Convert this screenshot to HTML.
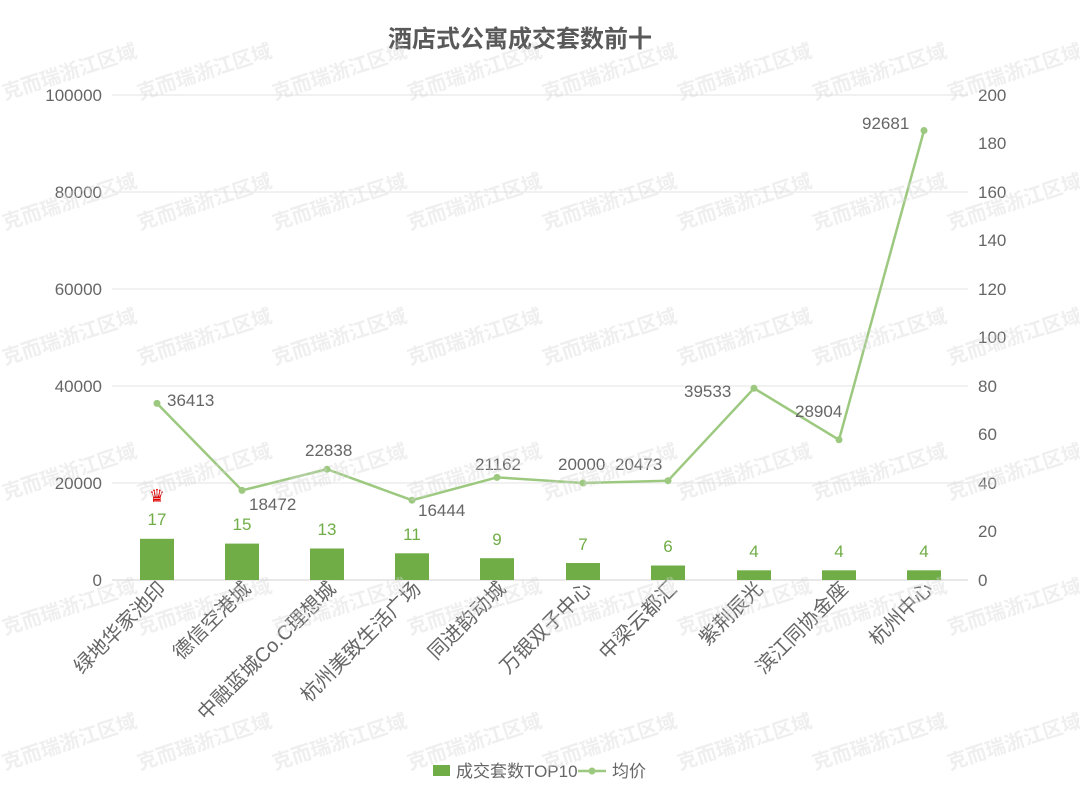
<!DOCTYPE html>
<html><head><meta charset="utf-8"><style>
html,body{margin:0;padding:0;background:#fff}
svg{display:block}
text{font-family:"Liberation Sans","Noto Sans CJK SC",sans-serif}
</style></head><body>
<svg width="1080" height="796" viewBox="0 0 1080 796" xmlns="http://www.w3.org/2000/svg">
<rect width="1080" height="796" fill="#fff"/>
<g stroke="#e3e3e3" stroke-width="1">
<line x1="112" y1="95" x2="968" y2="95"/>
<line x1="112" y1="192" x2="968" y2="192"/>
<line x1="112" y1="289" x2="968" y2="289"/>
<line x1="112" y1="386" x2="968" y2="386"/>
<line x1="112" y1="483" x2="968" y2="483"/>
<line x1="112" y1="580" x2="968" y2="580" stroke="#d0d0d0"/>
</g>
<text x="520" y="47" text-anchor="middle" font-size="24" font-weight="bold" fill="#595959">酒店式公寓成交套数前十</text>
<g font-size="17" fill="#666" text-anchor="end">
<text x="102" y="101">100000</text><text x="102" y="198">80000</text><text x="102" y="295">60000</text>
<text x="102" y="392">40000</text><text x="102" y="489">20000</text><text x="102" y="586">0</text>
</g>
<g font-size="17" fill="#666" text-anchor="start">
<text x="978" y="101">200</text><text x="978" y="198">160</text><text x="978" y="295">120</text>
<text x="978" y="392">80</text><text x="978" y="489">40</text><text x="978" y="586">0</text>
<text x="978" y="149">180</text><text x="978" y="246">140</text><text x="978" y="343">100</text>
<text x="978" y="440">60</text><text x="978" y="537">20</text>
</g>
<g fill="#70ad47">
<rect x="140" y="538.8" width="34" height="41.2"/>
<rect x="225" y="543.6" width="34" height="36.4"/>
<rect x="310" y="548.5" width="34" height="31.5"/>
<rect x="395" y="553.3" width="34" height="26.7"/>
<rect x="480" y="558.2" width="34" height="21.8"/>
<rect x="566" y="563" width="34" height="17"/>
<rect x="651" y="565.5" width="34" height="14.5"/>
<rect x="737" y="570.3" width="34" height="9.7"/>
<rect x="822" y="570.3" width="34" height="9.7"/>
<rect x="907" y="570.3" width="34" height="9.7"/>
</g>
<g font-size="17" fill="#70ad47" text-anchor="middle">
<text x="157" y="525">17</text><text x="242" y="530">15</text><text x="327" y="535">13</text>
<text x="412" y="540">11</text><text x="497" y="545">9</text><text x="583" y="550">7</text>
<text x="668" y="552">6</text><text x="754" y="557">4</text><text x="839" y="557">4</text><text x="924" y="557">4</text>
</g>
<text x="157" y="502" text-anchor="middle" font-size="18" fill="#d00">♛</text>
<polyline fill="none" stroke="#9cc97f" stroke-width="2.5" points="157,403.4 242,490.4 327,469.2 412,500.2 497,477.4 583,483 668,480.7 754,388.3 839,439.8 924,130.5"/>
<g fill="#9cc97f">
<circle cx="157" cy="403.4" r="3.5"/><circle cx="242" cy="490.4" r="3.5"/><circle cx="327" cy="469.2" r="3.5"/>
<circle cx="412" cy="500.2" r="3.5"/><circle cx="497" cy="477.4" r="3.5"/><circle cx="583" cy="483" r="3.5"/>
<circle cx="668" cy="480.7" r="3.5"/><circle cx="754" cy="388.3" r="3.5"/><circle cx="839" cy="439.8" r="3.5"/><circle cx="924" cy="130.5" r="3.5"/>
</g>
<g font-size="17" fill="#666">
<text x="167" y="406">36413</text><text x="249" y="510">18472</text><text x="305" y="456">22838</text>
<text x="418" y="516">16444</text><text x="475" y="470">21162</text><text x="558" y="470">20000</text>
<text x="615" y="470">20473</text><text x="684" y="397">39533</text><text x="795" y="417">28904</text><text x="862" y="129">92681</text>
</g>
<g font-size="20" fill="#666" text-anchor="end">
<text transform="translate(167,590) rotate(-45)">绿地华家池印</text>
<text transform="translate(252,590) rotate(-45)">德信空港城</text>
<text transform="translate(337,590) rotate(-45)">中融蓝城Co.C理想城</text>
<text transform="translate(422,590) rotate(-45)">杭州美致生活广场</text>
<text transform="translate(507,590) rotate(-45)">同进韵动城</text>
<text transform="translate(593,590) rotate(-45)">万银双子中心</text>
<text transform="translate(678,590) rotate(-45)">中梁云都汇</text>
<text transform="translate(764,590) rotate(-45)">紫荆辰光</text>
<text transform="translate(849,590) rotate(-45)">滨江同协金座</text>
<text transform="translate(934,590) rotate(-45)">杭州中心</text>
</g>
<rect x="433" y="765" width="17" height="11" fill="#70ad47"/>
<text x="456" y="777" font-size="17" fill="#666">成交套数TOP10</text>
<line x1="578" y1="771" x2="606" y2="771" stroke="#9cc97f" stroke-width="2.5"/>
<circle cx="592" cy="771" r="3.5" fill="#9cc97f"/>
<text x="612" y="777" font-size="17" fill="#666">均价</text>
<g font-size="20" font-weight="bold" fill="#d6d6d6" fill-opacity="0.4">
<text transform="translate(5,100) rotate(-18)">克而瑞浙江区域</text>
<text transform="translate(140,100) rotate(-18)">克而瑞浙江区域</text>
<text transform="translate(275,100) rotate(-18)">克而瑞浙江区域</text>
<text transform="translate(410,100) rotate(-18)">克而瑞浙江区域</text>
<text transform="translate(545,100) rotate(-18)">克而瑞浙江区域</text>
<text transform="translate(680,100) rotate(-18)">克而瑞浙江区域</text>
<text transform="translate(815,100) rotate(-18)">克而瑞浙江区域</text>
<text transform="translate(950,100) rotate(-18)">克而瑞浙江区域</text>
<text transform="translate(5,230) rotate(-18)">克而瑞浙江区域</text>
<text transform="translate(140,230) rotate(-18)">克而瑞浙江区域</text>
<text transform="translate(275,230) rotate(-18)">克而瑞浙江区域</text>
<text transform="translate(410,230) rotate(-18)">克而瑞浙江区域</text>
<text transform="translate(545,230) rotate(-18)">克而瑞浙江区域</text>
<text transform="translate(680,230) rotate(-18)">克而瑞浙江区域</text>
<text transform="translate(815,230) rotate(-18)">克而瑞浙江区域</text>
<text transform="translate(950,230) rotate(-18)">克而瑞浙江区域</text>
<text transform="translate(5,365) rotate(-18)">克而瑞浙江区域</text>
<text transform="translate(140,365) rotate(-18)">克而瑞浙江区域</text>
<text transform="translate(275,365) rotate(-18)">克而瑞浙江区域</text>
<text transform="translate(410,365) rotate(-18)">克而瑞浙江区域</text>
<text transform="translate(545,365) rotate(-18)">克而瑞浙江区域</text>
<text transform="translate(680,365) rotate(-18)">克而瑞浙江区域</text>
<text transform="translate(815,365) rotate(-18)">克而瑞浙江区域</text>
<text transform="translate(950,365) rotate(-18)">克而瑞浙江区域</text>
<text transform="translate(5,500) rotate(-18)">克而瑞浙江区域</text>
<text transform="translate(140,500) rotate(-18)">克而瑞浙江区域</text>
<text transform="translate(275,500) rotate(-18)">克而瑞浙江区域</text>
<text transform="translate(410,500) rotate(-18)">克而瑞浙江区域</text>
<text transform="translate(545,500) rotate(-18)">克而瑞浙江区域</text>
<text transform="translate(680,500) rotate(-18)">克而瑞浙江区域</text>
<text transform="translate(815,500) rotate(-18)">克而瑞浙江区域</text>
<text transform="translate(950,500) rotate(-18)">克而瑞浙江区域</text>
<text transform="translate(5,635) rotate(-18)">克而瑞浙江区域</text>
<text transform="translate(140,635) rotate(-18)">克而瑞浙江区域</text>
<text transform="translate(275,635) rotate(-18)">克而瑞浙江区域</text>
<text transform="translate(410,635) rotate(-18)">克而瑞浙江区域</text>
<text transform="translate(545,635) rotate(-18)">克而瑞浙江区域</text>
<text transform="translate(680,635) rotate(-18)">克而瑞浙江区域</text>
<text transform="translate(815,635) rotate(-18)">克而瑞浙江区域</text>
<text transform="translate(950,635) rotate(-18)">克而瑞浙江区域</text>
<text transform="translate(5,770) rotate(-18)">克而瑞浙江区域</text>
<text transform="translate(140,770) rotate(-18)">克而瑞浙江区域</text>
<text transform="translate(275,770) rotate(-18)">克而瑞浙江区域</text>
<text transform="translate(410,770) rotate(-18)">克而瑞浙江区域</text>
<text transform="translate(545,770) rotate(-18)">克而瑞浙江区域</text>
<text transform="translate(680,770) rotate(-18)">克而瑞浙江区域</text>
<text transform="translate(815,770) rotate(-18)">克而瑞浙江区域</text>
<text transform="translate(950,770) rotate(-18)">克而瑞浙江区域</text>
</g>
</svg>
</body></html>
